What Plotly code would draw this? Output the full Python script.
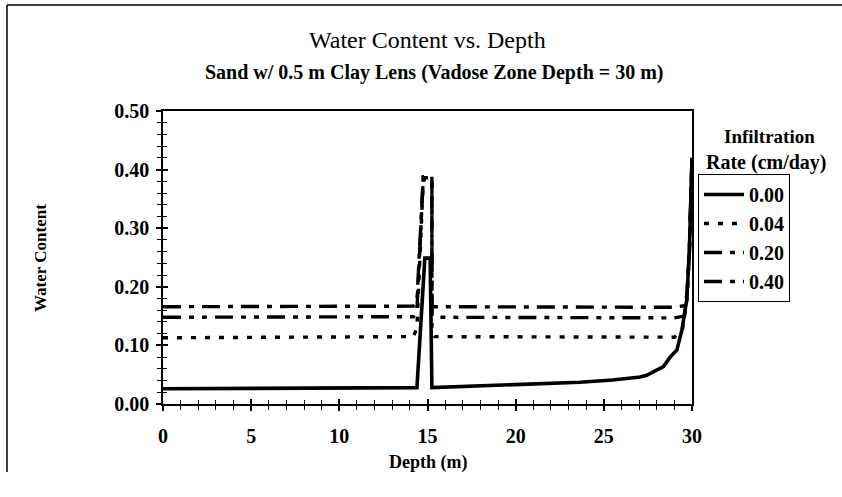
import plotly.graph_objects as go

# ---- data ----
rates = ["0.00", "0.04", "0.20", "0.40"]

depth_000 = [0, 5, 10, 14.4, 14.85, 15.15, 15.25, 17, 20, 23.65, 25.5, 27.06, 27.43, 28.38, 28.76, 29.14, 29.42, 29.7, 29.85, 29.95, 30]
wc_000 = [0.026, 0.027, 0.027, 0.028, 0.249, 0.249, 0.028, 0.030, 0.032, 0.037, 0.041, 0.046, 0.049, 0.064, 0.080, 0.092, 0.125, 0.177, 0.26, 0.38, 0.42]

depth_004 = [0, 10, 14.2, 14.4, 14.76, 15.25, 15.25, 15.4, 25, 29.0, 29.45, 29.7, 29.85, 29.95, 30]
wc_004 = [0.113, 0.114, 0.115, 0.13, 0.383, 0.383, 0.12, 0.115, 0.114, 0.114, 0.125, 0.177, 0.26, 0.38, 0.42]

depth_020 = [0, 10, 14.2, 14.4, 14.76, 15.25, 15.25, 15.4, 25, 29.0, 29.55, 29.7, 29.85, 29.95, 30]
wc_020 = [0.148, 0.148, 0.149, 0.16, 0.386, 0.386, 0.15, 0.148, 0.147, 0.147, 0.15, 0.177, 0.26, 0.38, 0.42]

depth_040 = [0, 10, 14.2, 14.4, 14.76, 15.25, 15.25, 15.4, 25, 29.0, 29.62, 29.75, 29.85, 29.95, 30]
wc_040 = [0.166, 0.166, 0.167, 0.175, 0.388, 0.388, 0.168, 0.166, 0.165, 0.165, 0.168, 0.2, 0.26, 0.38, 0.42]

x_ticks = [0, 5, 10, 15, 20, 25, 30]
y_ticks = [0.0, 0.1, 0.2, 0.3, 0.4, 0.5]
y_tick_labels = ["0.00", "0.10", "0.20", "0.30", "0.40", "0.50"]

series = [
    (depth_000, wc_000, "solid", 3.6),
    (depth_004, wc_004, "5px,9px", 3.4),
    (depth_020, wc_020, "18px,8px,5px,8px,5px,8px", 3.4),
    (depth_040, wc_040, "18px,8px,5px,8px", 3.4),
]

FONT = "Liberation Serif"

fig = go.Figure()
for name, (xs, ys, dash, w) in zip(rates, series):
    fig.add_trace(go.Scatter(
        x=xs, y=ys, mode="lines", name=name, legendgroup=name,
        line=dict(color="black", width=w, dash=dash),
    ))

# plot area: x 163..692, y 111..404
L, R, T, B = 163, 692, 111, 404
W, H = 842, 497
pw, ph = R - L, B - T

def px(x):
    return (x - L) / pw

def py(y):
    return (B - y) / ph

axis_common = dict(showline=True, linecolor="black", linewidth=1.5, showgrid=False,
                   zeroline=False, tickcolor="black",
                   tickfont=dict(family=FONT, size=20, color="black", weight="bold"))

fig.update_layout(
    width=W, height=H,
    margin=dict(l=L, r=W - R, t=T, b=H - B),
    paper_bgcolor="white", plot_bgcolor="white",
    font=dict(family=FONT, color="black"),
    xaxis=dict(range=[0, 30], tickvals=x_ticks, ticks="outside", ticklen=5, tickwidth=1.5,
               mirror=True, ticklabelstandoff=8,
               minor=dict(dtick=1, ticks="outside", ticklen=4, tickcolor="black", tickwidth=1),
               **axis_common),
    yaxis=dict(range=[0, 0.5], tickvals=y_ticks, ticktext=y_tick_labels, ticks="outside",
               ticklen=5, tickwidth=1.5, mirror=True, ticklabelstandoff=3,
               minor=dict(dtick=0.02, ticks="outside", ticklen=4, tickcolor="black", tickwidth=1),
               **axis_common),
    xaxis2=dict(range=[0, 30], overlaying="x", tickvals=x_ticks, ticks="inside", ticklen=5,
                tickwidth=1.5, tickcolor="black", showticklabels=False, showline=False,
                showgrid=False, zeroline=False,
                minor=dict(dtick=1, ticks="inside", ticklen=4, tickcolor="black", tickwidth=1)),
    yaxis2=dict(range=[0, 0.5], overlaying="y", tickvals=y_ticks, ticks="inside", ticklen=5,
                tickwidth=1.5, tickcolor="black", showticklabels=False, showline=False,
                showgrid=False, zeroline=False,
                minor=dict(dtick=0.02, ticks="inside", ticklen=4, tickcolor="black", tickwidth=1)),
    legend=dict(x=px(698), y=py(174), xanchor="left", yanchor="top",
                bordercolor="black", borderwidth=1, bgcolor="white",
                font=dict(family=FONT, size=20, color="black", weight="bold"),
                tracegroupgap=0, itemwidth=40),
    showlegend=True,
)

# invisible helper trace so the secondary (inside-tick) axes render
fig.add_trace(go.Scatter(x=[None], y=[None], xaxis="x2", yaxis="y2", showlegend=False,
                         hoverinfo="skip"))

annots = [
    dict(text="Water Content vs. Depth", x=px(427), y=py(40), size=24, weight="normal"),
    dict(text="Sand w/ 0.5 m Clay Lens (Vadose Zone Depth = 30 m)", x=px(434), y=py(72), size=20, weight="bold"),
    dict(text="Depth (m)", x=px(428), y=py(462), size=18, weight="bold"),
    dict(text="Infiltration", x=px(769), y=py(136), size=19, weight="bold"),
    dict(text="Rate (cm/day)", x=px(766), y=py(162), size=20, weight="bold"),
]
for a in annots:
    fig.add_annotation(text=a["text"], x=a["x"], y=a["y"], xref="paper", yref="paper",
                       showarrow=False, xanchor="center", yanchor="middle",
                       font=dict(family=FONT, size=a["size"], color="black", weight=a["weight"]))
fig.add_annotation(text="Water Content", x=px(40), y=py(258), xref="paper", yref="paper",
                   showarrow=False, textangle=-90, xanchor="center", yanchor="middle",
                   font=dict(family=FONT, size=17, color="black", weight="bold"))

# outer chart frame (left and top edges visible in the reference)
fig.add_shape(type="line", xref="paper", yref="paper", x0=px(7), x1=px(7), y0=py(5), y1=py(472),
              line=dict(color="black", width=1.5))
fig.add_shape(type="line", xref="paper", yref="paper", x0=px(7), x1=px(842), y0=py(5), y1=py(5),
              line=dict(color="black", width=1.5))

fig.write_html("out.html")
